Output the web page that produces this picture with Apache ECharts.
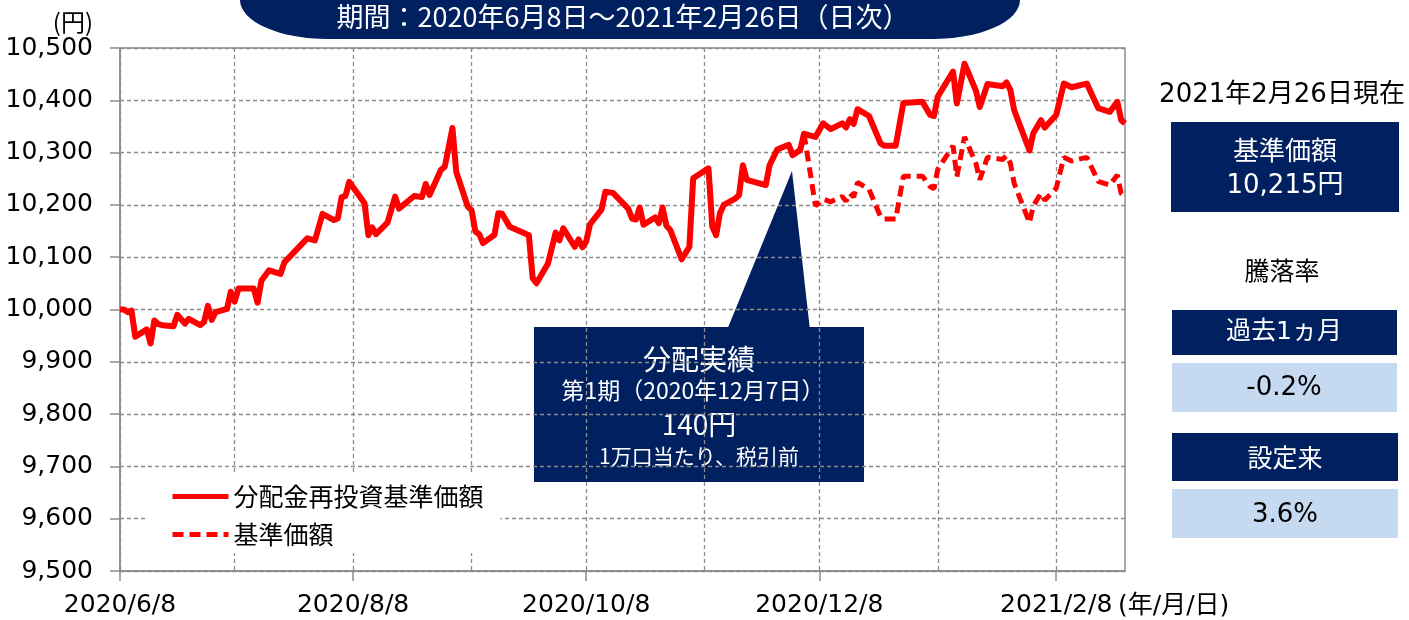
<!DOCTYPE html>
<html>
<head>
<meta charset="utf-8">
<script src="https://cdn.jsdelivr.net/npm/echarts@6/dist/echarts.min.js"></script>
<style>
html, body { margin: 0; padding: 0; background: #fff; }
#main { width: 1409px; height: 620px; }
</style>
</head>
<body>
<div id="main"></div>
<script>
// 期間
var startDate = '2020/6/8';
var endDate = '2021/2/26';

// 目盛り（毎月8日に縦線、2ヵ月ごとにラベル）
var gridDates = ['2020/6/8', '2020/7/8', '2020/8/8', '2020/9/8', '2020/10/8', '2020/11/8',
  '2020/12/8', '2021/1/8', '2021/2/8'];
var labelDates = ['2020/6/8', '2020/8/8', '2020/10/8', '2020/12/8', '2021/2/8'];

// 分配金再投資基準価額
var reinvDates = ['2020/6/8', '2020/6/9', '2020/6/10', '2020/6/11', '2020/6/12', '2020/6/15', '2020/6/16',
  '2020/6/17', '2020/6/18', '2020/6/19', '2020/6/22', '2020/6/23', '2020/6/25', '2020/6/26', '2020/6/29',
  '2020/6/30', '2020/7/1', '2020/7/2', '2020/7/3', '2020/7/6', '2020/7/7', '2020/7/8', '2020/7/9',
  '2020/7/13', '2020/7/14', '2020/7/15', '2020/7/17', '2020/7/20', '2020/7/21', '2020/7/27', '2020/7/29',
  '2020/7/31', '2020/8/3', '2020/8/4', '2020/8/5', '2020/8/6', '2020/8/7', '2020/8/11', '2020/8/12',
  '2020/8/13', '2020/8/14', '2020/8/17', '2020/8/19', '2020/8/20', '2020/8/24', '2020/8/26', '2020/8/27',
  '2020/8/28', '2020/8/31', '2020/9/1', '2020/9/3', '2020/9/4', '2020/9/7', '2020/9/8', '2020/9/9',
  '2020/9/10', '2020/9/11', '2020/9/14', '2020/9/15', '2020/9/16', '2020/9/18', '2020/9/23', '2020/9/24',
  '2020/9/25', '2020/9/28', '2020/9/30', '2020/10/1', '2020/10/2', '2020/10/5', '2020/10/6', '2020/10/7',
  '2020/10/8', '2020/10/9', '2020/10/12', '2020/10/13', '2020/10/15', '2020/10/19', '2020/10/20',
  '2020/10/21', '2020/10/22', '2020/10/23', '2020/10/26', '2020/10/27', '2020/10/28', '2020/10/29',
  '2020/10/30', '2020/11/2', '2020/11/4', '2020/11/5', '2020/11/9', '2020/11/10', '2020/11/11',
  '2020/11/12', '2020/11/13', '2020/11/16', '2020/11/17', '2020/11/18', '2020/11/19', '2020/11/24',
  '2020/11/25', '2020/11/27', '2020/11/30', '2020/12/1', '2020/12/3', '2020/12/4', '2020/12/7',
  '2020/12/9', '2020/12/11', '2020/12/14', '2020/12/15', '2020/12/16', '2020/12/17', '2020/12/18',
  '2020/12/21', '2020/12/24', '2020/12/25', '2020/12/28', '2020/12/30', '2021/1/4', '2021/1/6',
  '2021/1/7', '2021/1/8', '2021/1/12', '2021/1/13', '2021/1/15', '2021/1/18', '2021/1/19', '2021/1/21',
  '2021/1/25', '2021/1/26', '2021/1/27', '2021/1/28', '2021/2/1', '2021/2/2', '2021/2/4', '2021/2/5',
  '2021/2/8', '2021/2/10', '2021/2/12', '2021/2/16', '2021/2/19', '2021/2/22', '2021/2/24', '2021/2/25',
  '2021/2/26'];
var reinvValues = [10000, 10000, 9995, 9998, 9948, 9962, 9935,
  9979, 9972, 9970, 9968, 9990, 9973, 9982, 9970,
  9976, 10007, 9980, 9995, 10001, 10034, 10015, 10040,
  10040, 10013, 10055, 10075, 10068, 10090, 10136, 10132,
  10183, 10171, 10174, 10215, 10217, 10244, 10203, 10142,
  10157, 10144, 10166, 10216, 10193, 10217, 10215, 10240,
  10219, 10267, 10273, 10347, 10263, 10197, 10190, 10149,
  10144, 10127, 10143, 10184, 10183, 10158, 10142, 10060,
  10050, 10088, 10147, 10132, 10155, 10120, 10134, 10119,
  10130, 10163, 10191, 10225, 10223, 10193, 10174,
  10172, 10195, 10162, 10176, 10165, 10195, 10160,
  10152, 10096, 10120, 10251, 10270, 10158, 10142,
  10184, 10200, 10212, 10219, 10276, 10248, 10238,
  10276, 10306, 10315, 10295, 10305, 10336, 10330,
  10356, 10345, 10356, 10348, 10364, 10355, 10383,
  10370, 10318, 10313, 10313, 10395, 10397, 10372,
  10370, 10407, 10455, 10394, 10470, 10418, 10387, 10431,
  10427, 10434, 10420, 10381, 10304, 10337, 10362, 10348,
  10372, 10432, 10425, 10432, 10385, 10378, 10397, 10362,
  10356];

// 基準価額（分配落ち後のみ別線）
var navDates = ['2020/12/4', '2020/12/7', '2020/12/9', '2020/12/11', '2020/12/14', '2020/12/15',
  '2020/12/16', '2020/12/17', '2020/12/18', '2020/12/21', '2020/12/24', '2020/12/25', '2020/12/28',
  '2020/12/30', '2021/1/4', '2021/1/6', '2021/1/7', '2021/1/8', '2021/1/12', '2021/1/13', '2021/1/15',
  '2021/1/18', '2021/1/19', '2021/1/21', '2021/1/25', '2021/1/26', '2021/1/27', '2021/1/28', '2021/2/1',
  '2021/2/2', '2021/2/4', '2021/2/5', '2021/2/8', '2021/2/10', '2021/2/12', '2021/2/16', '2021/2/19',
  '2021/2/22', '2021/2/24', '2021/2/25', '2021/2/26'];
var navValues = [10336, 10198, 10211, 10206, 10216, 10207,
  10222, 10215, 10243, 10230, 10178, 10173, 10173,
  10255, 10255, 10235, 10231, 10268, 10313, 10254, 10330,
  10279, 10248, 10291, 10287, 10294, 10280, 10241, 10166,
  10198, 10222, 10209, 10232, 10291, 10284, 10291, 10245,
  10238, 10257, 10222, 10215];

var NAVY = '#002060';
var LIGHT = '#c5d9f1';
var GRID = '#8c8c8c';
var NUM_FONT = 'DejaVu Sans, "Noto Sans CJK JP"';
var JP_FONT = '"Noto Sans CJK JP", sans-serif';

// 日付カテゴリ（暦日）
var days = [];
var d = new Date(startDate);
var end = new Date(endDate);
while (d <= end) {
  days.push(d.getFullYear() + '/' + (d.getMonth() + 1) + '/' + d.getDate());
  d.setDate(d.getDate() + 1);
}
function toSeries(dates, values) {
  var arr = days.map(function () { return null; });
  dates.forEach(function (dt, i) { arr[days.indexOf(dt)] = values[i]; });
  return arr;
}
function comma(v) {
  return String(v).replace(/\B(?=(\d{3})+(?!\d))/g, ',');
}

var chart = echarts.init(document.getElementById('main'));

var option = {
  animation: false,
  grid: {
    left: 120, right: 284, top: 48, bottom: 49,
    show: true, borderColor: GRID, borderWidth: 1.5
  },
  legend: {
    orient: 'vertical',
    left: 146, top: 474,
    padding: [10, 17, 6, 24],
    backgroundColor: '#fff',
    itemWidth: 56, itemHeight: 14, itemGap: 13,
    itemStyle: { opacity: 0 },
    lineStyle: { width: 5 },
    textStyle: { fontFamily: JP_FONT, fontSize: 25, color: '#000' },
    data: ['分配金再投資基準価額', '基準価額']
  },
  xAxis: {
    type: 'category',
    data: days,
    boundaryGap: false,
    axisLine: { lineStyle: { color: GRID, width: 1.5 } },
    axisTick: {
      length: 10, lineStyle: { color: GRID, width: 1.5 },
      interval: function (i, v) { return labelDates.indexOf(v) >= 0; }
    },
    axisLabel: {
      margin: 22, fontFamily: NUM_FONT, fontSize: 25, color: '#000',
      interval: function (i, v) { return labelDates.indexOf(v) >= 0; }
    },
    splitLine: {
      show: true,
      lineStyle: { color: GRID, type: [4, 3], width: 1.3 },
      interval: function (i, v) { return gridDates.indexOf(v) >= 0; }
    }
  },
  yAxis: {
    type: 'value',
    min: 9500, max: 10500, interval: 100,
    axisLine: { show: true, lineStyle: { color: GRID, width: 1.5 } },
    axisTick: { show: true, length: 10, lineStyle: { color: GRID, width: 1.5 } },
    axisLabel: {
      margin: 27, fontFamily: NUM_FONT, fontSize: 25, color: '#000',
      formatter: comma
    },
    splitLine: { lineStyle: { color: GRID, type: [4, 3], width: 1.3 } }
  },
  series: [
    {
      name: '分配金再投資基準価額',
      type: 'line',
      data: toSeries(reinvDates, reinvValues),
      connectNulls: true,
      symbol: 'none',
      lineStyle: { color: '#ff0000', width: 6, join: 'round' },
      itemStyle: { color: '#ff0000' }
    },
    {
      name: '基準価額',
      type: 'line',
      data: toSeries(navDates, navValues),
      connectNulls: true,
      symbol: 'none',
      lineStyle: { color: '#ff0000', width: 5, type: [11, 6] },
      itemStyle: { color: '#ff0000' }
    }
  ],
  graphic: [
    // 期間バナー
    {
      type: 'rect', x: 240, y: 0, scaleX: 2.25,
      shape: { x: 0, y: -45, width: 780 / 2.25, height: 84, r: 39 },
      style: { fill: NAVY }
    },
    {
      type: 'text', x: 623, y: 17,
      style: {
        text: '期間：2020年6月8日～2021年2月26日（日次）', fill: '#fff',
        font: '27px ' + JP_FONT, textAlign: 'center', textVerticalAlign: 'middle'
      }
    },
    // 単位
    {
      type: 'text', x: 93, y: 22,
      style: { text: '(円)', fill: '#000', font: '24px ' + JP_FONT, textAlign: 'right', textVerticalAlign: 'middle' }
    },
    {
      type: 'text', x: 1118, y: 606,
      style: { text: '(年/月/日)', fill: '#000', font: '25px ' + NUM_FONT, textAlign: 'left', textVerticalAlign: 'middle' }
    },
    // 分配実績 吹き出し
    {
      type: 'polygon',
      shape: { points: [[727, 330], [792, 171], [810, 330]] },
      style: { fill: NAVY }
    },
    {
      type: 'rect', shape: { x: 534, y: 327, width: 330, height: 155 },
      style: { fill: NAVY }
    },
    {
      type: 'text', x: 699, y: 359,
      style: { text: '分配実績', fill: '#fff', font: '28px ' + JP_FONT, textAlign: 'center', textVerticalAlign: 'middle' }
    },
    {
      type: 'text', x: 693, y: 390,
      style: { text: '第1期（2020年12月7日）', fill: '#fff', font: '23px ' + JP_FONT, textAlign: 'center', textVerticalAlign: 'middle' }
    },
    {
      type: 'text', x: 699, y: 424,
      style: { text: '140円', fill: '#fff', font: '28px ' + JP_FONT, textAlign: 'center', textVerticalAlign: 'middle' }
    },
    {
      type: 'text', x: 699, y: 456,
      style: { text: '1万口当たり、税引前', fill: '#fff', font: '21px ' + JP_FONT, textAlign: 'center', textVerticalAlign: 'middle' }
    },
    // 右側パネル
    {
      type: 'text', x: 1282, y: 95,
      style: { text: '2021年2月26日現在', fill: '#000', font: '26px ' + NUM_FONT, textAlign: 'center', textVerticalAlign: 'middle' }
    },
    { type: 'rect', shape: { x: 1171, y: 122, width: 228, height: 90 }, style: { fill: NAVY } },
    {
      type: 'text', x: 1285, y: 150,
      style: { text: '基準価額', fill: '#fff', font: '26px ' + JP_FONT, textAlign: 'center', textVerticalAlign: 'middle' }
    },
    {
      type: 'text', x: 1285, y: 186,
      style: { text: '10,215円', fill: '#fff', font: '26px ' + NUM_FONT, textAlign: 'center', textVerticalAlign: 'middle' }
    },
    {
      type: 'text', x: 1282, y: 270,
      style: { text: '騰落率', fill: '#000', font: '25px ' + JP_FONT, textAlign: 'center', textVerticalAlign: 'middle' }
    },
    { type: 'rect', shape: { x: 1172, y: 310, width: 225, height: 45 }, style: { fill: NAVY } },
    {
      type: 'text', x: 1284, y: 332,
      style: { text: '過去1ヵ月', fill: '#fff', font: '25px ' + NUM_FONT, textAlign: 'center', textVerticalAlign: 'middle' }
    },
    { type: 'rect', shape: { x: 1172, y: 363, width: 225, height: 49 }, style: { fill: LIGHT } },
    {
      type: 'text', x: 1284, y: 388,
      style: { text: '-0.2%', fill: '#000', font: '26px ' + NUM_FONT, textAlign: 'center', textVerticalAlign: 'middle' }
    },
    { type: 'rect', shape: { x: 1172, y: 433, width: 226, height: 48 }, style: { fill: NAVY } },
    {
      type: 'text', x: 1285, y: 457,
      style: { text: '設定来', fill: '#fff', font: '25px ' + JP_FONT, textAlign: 'center', textVerticalAlign: 'middle' }
    },
    { type: 'rect', shape: { x: 1172, y: 489, width: 226, height: 49 }, style: { fill: LIGHT } },
    {
      type: 'text', x: 1285, y: 515,
      style: { text: '3.6%', fill: '#000', font: '26px ' + NUM_FONT, textAlign: 'center', textVerticalAlign: 'middle' }
    }
  ]
};

chart.setOption(option);
</script>
</body>
</html>
